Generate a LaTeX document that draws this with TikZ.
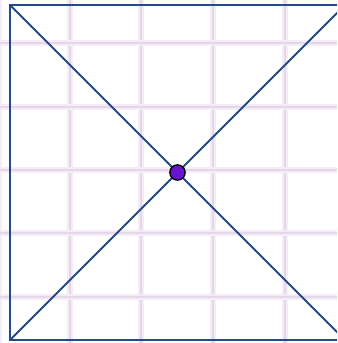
\documentclass[tikz,border=0pt]{standalone}
\definecolor{gridhalo}{RGB}{244,236,246}
\definecolor{gridlilac}{RGB}{230,214,234}
\definecolor{edgeblue}{RGB}{35,75,135}
\definecolor{dotpurple}{RGB}{102,20,205}
\tikzset{
    gridsoft/.style={gridhalo, line width=5pt},
    gridcore/.style={gridlilac, line width=2.2pt},
    edge/.style={edgeblue, line width=1.4pt}
}
\begin{document}
\begin{tikzpicture}[x=0.75pt, y=-0.75pt]
    \useasboundingbox (0,0) rectangle (337,343);
    \fill[white] (0,0) rectangle (337,343);

    % Background grid (blurred lilac lines)
    \foreach \gx in {-1,70,141,213,285} {
        \draw[gridsoft] (\gx,0) -- (\gx,343);
        \draw[gridcore] (\gx,0) -- (\gx,343);
    }
    \foreach \gy in {43,107,170,233,297} {
        \draw[gridsoft] (0,\gy) -- (337,\gy);
        \draw[gridcore] (0,\gy) -- (337,\gy);
    }

    % Corners of the square (right side runs past the frame)
    \coordinate (TL) at (10,5);
    \coordinate (TR) at (345,5);
    \coordinate (BR) at (345,340);
    \coordinate (BL) at (10,340);

    % Square and its diagonals
    \begin{scope}
        \clip (0,0) rectangle (337,343);
        \draw[edge, line width=1.6pt] (TL) -- (TR) -- (BR) -- (BL) -- cycle;
        \draw[edge] (TL) -- (BR);
        \draw[edge] (BL) -- (TR);
    \end{scope}

    % Centre point
    \node[circle, draw=black, fill=dotpurple, line width=1pt,
          minimum size=11.5pt, inner sep=0pt] (M) at (177.5,172.5) {};
\end{tikzpicture}
\end{document}
